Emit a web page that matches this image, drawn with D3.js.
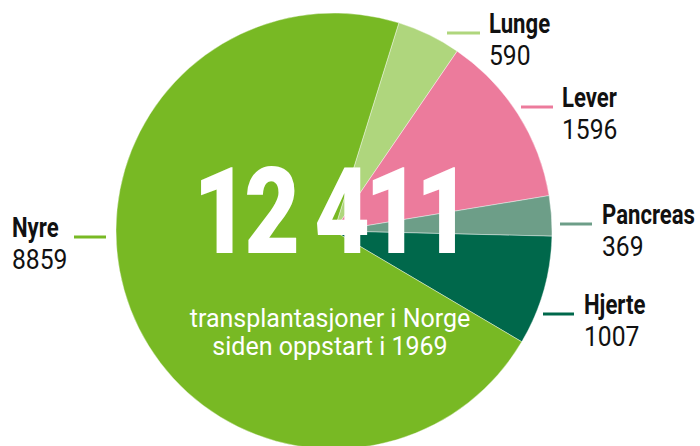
<!DOCTYPE html>
<html>
<head>
<meta charset="utf-8">
<script src="https://cdn.jsdelivr.net/npm/d3@7"></script>
<style>
  body { margin: 0; background: #fff; }
  text { font-family: "Roboto", "Liberation Sans", sans-serif; }
</style>
</head>
<body>
<div id="chart"></div>
<script>
// data
var categories = ["Lunge", "Lever", "Pancreas", "Hjerte", "Nyre"];
var values = [590, 1596, 369, 1007, 8859];
var colors = ["#afd67d", "#ec7b9c", "#6d9e88", "#00684b", "#78b924"];
var totalLabel = "12 411";
var subLines = ["transplantasjoner i Norge", "siden oppstart i 1969"];

// label placement (leader line start/end, text x, baseline y)
var labelLayout = [
  { x1: 447, x2: 480, tx: 489, y: 33 },
  { x1: 521, x2: 553, tx: 562, y: 107 },
  { x1: 560, x2: 592, tx: 602, y: 224 },
  { x1: 543, x2: 574, tx: 584, y: 314 },
  { x1: 74, x2: 106, tx: 12, y: 237 }
];

var width = 700, height = 446;
var cx = 334, cy = 231, radius = 218;

var svg = d3.select("#chart")
  .append("svg")
  .attr("width", width)
  .attr("height", height);

var g = svg.append("g")
  .attr("transform", "translate(" + cx + "," + cy + ")");

var start = 0.302;
var pie = d3.pie()
  .sort(null)
  .startAngle(start)
  .endAngle(start + 2 * Math.PI);

var arc = d3.arc()
  .innerRadius(0)
  .outerRadius(radius);

var arcs = pie(values);

g.selectAll("path")
  .data(arcs)
  .enter()
  .append("path")
  .attr("d", arc)
  .attr("fill", function (d, i) { return colors[i]; })
  .attr("stroke", "#fff")
  .attr("stroke-width", 0.4);

// big total number (squeezed, no condensed font here)
g.append("text")
  .attr("transform", "translate(-4,22) scale(0.8,1)")
  .attr("text-anchor", "middle")
  .attr("fill", "#fff")
  .attr("font-weight", 900)
  .attr("font-size", 120)
  .attr("letter-spacing", -6)
  .text(totalLabel);

g.selectAll(".sub")
  .data(subLines)
  .enter()
  .append("text")
  .attr("class", "sub")
  .attr("x", -4)
  .attr("y", function (d, i) { return 96 + i * 28; })
  .attr("text-anchor", "middle")
  .attr("fill", "#fff")
  .attr("font-size", 25)
  .text(function (d) { return d; });

// labels
var lab = svg.selectAll(".lab")
  .data(categories)
  .enter()
  .append("g")
  .attr("class", "lab");

lab.append("line")
  .attr("x1", function (d, i) { return labelLayout[i].x1; })
  .attr("x2", function (d, i) { return labelLayout[i].x2; })
  .attr("y1", function (d, i) { return labelLayout[i].y; })
  .attr("y2", function (d, i) { return labelLayout[i].y; })
  .attr("stroke", function (d, i) { return colors[i]; })
  .attr("stroke-width", 3);

lab.append("text")
  .attr("transform", function (d, i) {
    return "translate(" + labelLayout[i].tx + "," + labelLayout[i].y + ") scale(0.82,1)";
  })
  .attr("font-weight", "bold")
  .attr("font-size", 27)
  .attr("fill", "#111")
  .text(function (d) { return d; });

lab.append("text")
  .attr("transform", function (d, i) {
    return "translate(" + labelLayout[i].tx + "," + (labelLayout[i].y + 32) + ") scale(0.88,1)";
  })
  .attr("font-size", 28)
  .attr("fill", "#111")
  .text(function (d, i) { return values[i]; });
</script>
</body>
</html>
